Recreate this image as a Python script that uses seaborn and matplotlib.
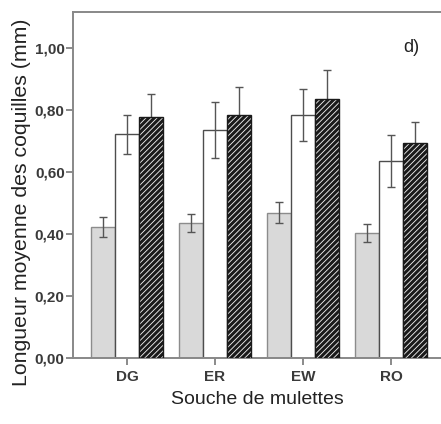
import numpy as np
import pandas as pd
import matplotlib
matplotlib.use("Agg")
import matplotlib.pyplot as plt
import seaborn as sns

sns.set_style("white")
plt.rcParams["font.family"] = ["Liberation Sans Narrow", "Liberation Sans", "DejaVu Sans"]
plt.rcParams["hatch.linewidth"] = 2.2
plt.rcParams["hatch.color"] = "#1a1a1a"

# data
strains = ["DG", "ER", "EW", "RO"]
groups = ["Groupe 1", "Groupe 2", "Groupe 3"]
mean_g1 = [0.423, 0.436, 0.469, 0.403]
err_g1 = [0.032, 0.029, 0.034, 0.030]
mean_g2 = [0.722, 0.735, 0.784, 0.635]
err_g2 = [0.063, 0.090, 0.085, 0.085]
mean_g3 = [0.777, 0.784, 0.835, 0.694]
err_g3 = [0.073, 0.090, 0.094, 0.067]

df = pd.DataFrame({
    "souche": strains * 3,
    "groupe": [g for g in groups for _ in strains],
    "longueur": mean_g1 + mean_g2 + mean_g3,
    "err": err_g1 + err_g2 + err_g3,
})

fig = plt.figure(figsize=(4.41, 4.24), dpi=100)
ax = fig.add_axes([0.1655, 0.1557, 0.8345, 0.816])

sns.barplot(data=df, x="souche", y="longueur", hue="groupe", order=strains,
            hue_order=groups, width=0.82, errorbar=None, legend=False, ax=ax)

face = {"Groupe 1": "#d9d9d9", "Groupe 2": "white", "Groupe 3": "#f0f0f0"}
edge = {"Groupe 1": "#8c8c8c", "Groupe 2": "#4d4d4d", "Groupe 3": "#1a1a1a"}
patches = ax.patches
for i, p in enumerate(patches):
    g = groups[i // len(strains)]
    p.set_facecolor(face[g])
    p.set_edgecolor(edge[g])
    p.set_linewidth(1.0)
    if g == "Groupe 3":
        p.set_hatch("//////")
        p.set_zorder(4)
    else:
        p.set_zorder(2)

# error bars at bar centres
for i, p in enumerate(patches):
    g = groups[i // len(strains)]
    s = strains[i % len(strains)]
    row = df[(df["groupe"] == g) & (df["souche"] == s)].iloc[0]
    xc = p.get_x() + p.get_width() / 2
    ax.errorbar(xc, row["longueur"], yerr=row["err"], fmt="none",
                ecolor="#555555", elinewidth=1.0, capsize=3, capthick=1.0,
                zorder=3)

ax.set_xlim(-0.614, 3.568)
ax.set_ylim(0, 1.116)
yt = [0.0, 0.2, 0.4, 0.6, 0.8, 1.0]
ax.set_yticks(yt)
ax.set_yticklabels([f"{v:.2f}".replace(".", ",") for v in yt])
ax.tick_params(axis="both", direction="out", length=5, width=1.2,
               color="#777777", labelsize=11, labelcolor="#3a3a3a", pad=1,
               left=True, bottom=True)
ax.tick_params(axis="x", pad=4)
for lb in ax.get_xticklabels() + ax.get_yticklabels():
    lb.set_fontweight("bold")
for sp_name in ["left", "bottom", "top"]:
    ax.spines[sp_name].set_color("#888888")
    ax.spines[sp_name].set_linewidth(1.4)
ax.spines["right"].set_visible(False)

ax.set_xlabel("Souche de mulettes", fontsize=14, color="#222222", labelpad=5,
              family=["Liberation Sans", "DejaVu Sans"])
ax.set_ylabel("Longueur moyenne des coquilles (mm)", fontsize=15.3,
              color="#222222", family=["Liberation Sans", "DejaVu Sans"])
ax.yaxis.set_label_coords(-0.115, 0.45)
ax.text(0.92, 0.896, "d)", transform=ax.transAxes, fontsize=13,
        ha="center", va="center", color="#222222",
        family=["Liberation Sans", "DejaVu Sans"])

fig.savefig("out.png", dpi=100)
